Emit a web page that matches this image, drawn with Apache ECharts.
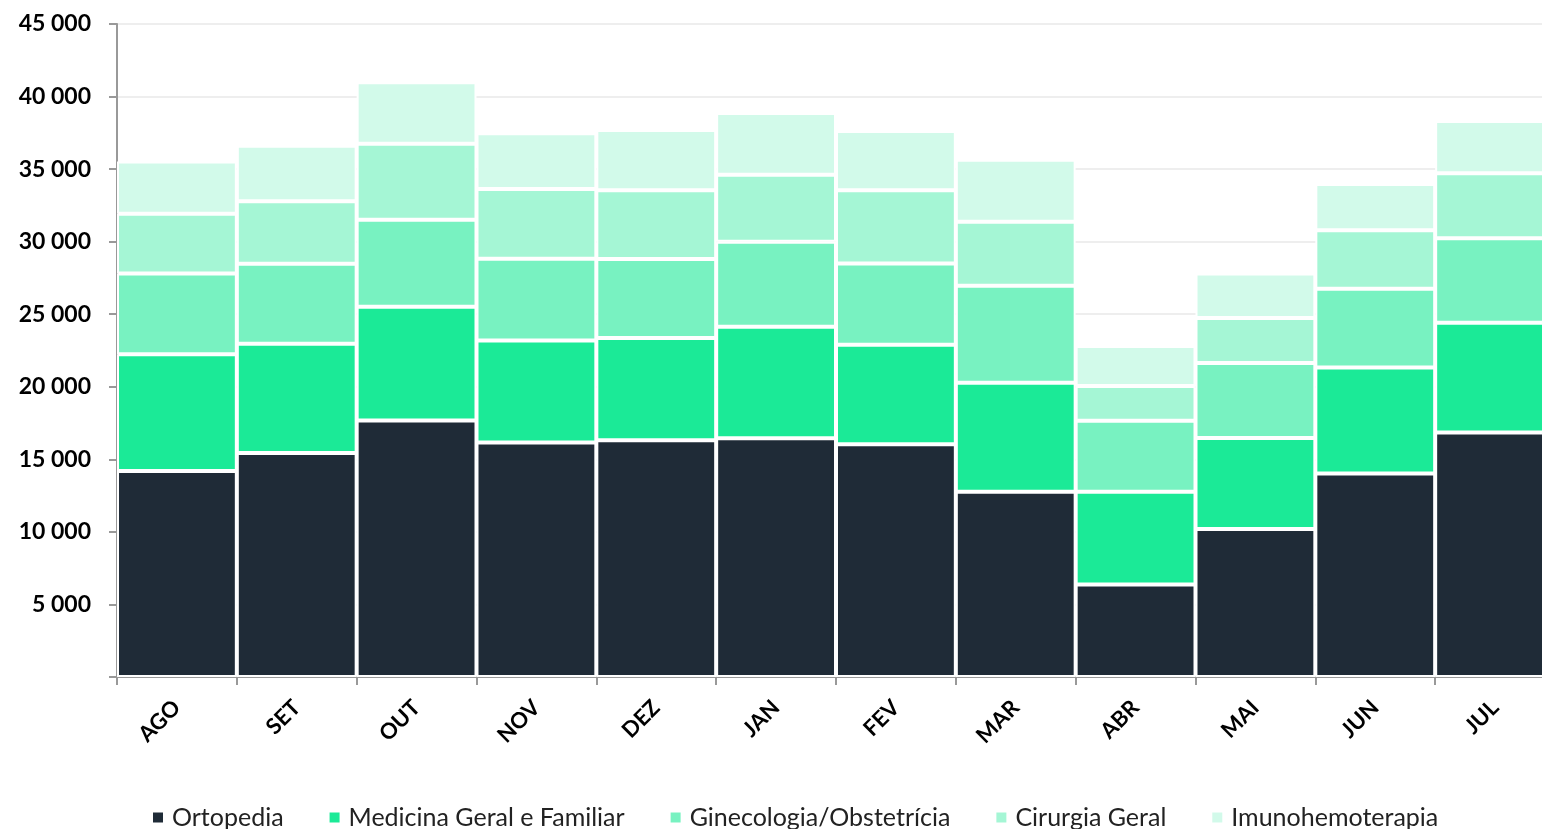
<!DOCTYPE html>
<html>
<head>
<meta charset="utf-8">
<script src="https://cdn.jsdelivr.net/npm/echarts@6/dist/echarts.min.js"></script>
<style>
  html, body { margin: 0; padding: 0; background: #ffffff; overflow: hidden; }
  #chart { width: 1542px; height: 829px; }
</style>
</head>
<body>
<div id="chart"></div>
<script>
// Months (August to July)
const months = ['AGO', 'SET', 'OUT', 'NOV', 'DEZ', 'JAN', 'FEV', 'MAR', 'ABR', 'MAI', 'JUN', 'JUL'];

// Monthly counts per specialty
const ortopedia   = [14200, 15440, 17680, 16160, 16320, 16460, 16040, 12760, 6370, 10200, 14020, 16850];
const medicina    = [8050, 7520, 7830, 7030, 7050, 7670, 6850, 7520, 6390, 6270, 7310, 7560];
const ginecologia = [5560, 5520, 6000, 5630, 5430, 5860, 5610, 6690, 4900, 5170, 5420, 5820];
const cirurgia    = [4120, 4300, 5240, 4810, 4740, 4620, 5050, 4410, 2390, 3100, 4030, 4480];
const imuno       = [3600, 3830, 4230, 3840, 4160, 4250, 4070, 4260, 2760, 3060, 3190, 3610];

const seriesNames = ['Ortopedia', 'Medicina Geral e Familiar', 'Ginecologia/Obstetrícia', 'Cirurgia Geral', 'Imunohemoterapia'];
const seriesData = [ortopedia, medicina, ginecologia, cirurgia, imuno];
const colors = ['#1f2b37', '#1bea97', '#78f2c1', '#a5f6d5', '#d2faea'];

const FONT = 'Lato, "Open Sans", sans-serif';

const chart = echarts.init(document.getElementById('chart'), null, { renderer: 'canvas' });

chart.setOption({
  animation: false,
  color: colors,
  // plot area runs slightly past the right edge of the canvas
  grid: {
    left: 117, width: 1438, top: 24, height: 653,
    containLabel: false,
    outerBoundsMode: 'none'
  },
  legend: {
    left: 146,
    top: 800,
    itemWidth: 12,
    itemHeight: 12,
    itemGap: 44,
    icon: 'rect',
    textStyle: { fontFamily: FONT, fontSize: 25, color: '#222', padding: [0, 0, 0, 3] },
    data: seriesNames
  },
  xAxis: {
    type: 'category',
    data: months,
    axisLine: { lineStyle: { color: '#999', width: 2 } },
    axisTick: { show: true, length: 8, lineStyle: { color: '#999', width: 2 } },
    axisLabel: {
      rotate: 45,
      margin: 27,
      fontFamily: FONT,
      fontWeight: 'bold',
      fontSize: 22,
      color: '#000'
    }
  },
  yAxis: {
    type: 'value',
    min: 0,
    max: 45000,
    interval: 5000,
    axisLine: { show: true, lineStyle: { color: '#999', width: 2 } },
    axisTick: { show: true, length: 8, lineStyle: { color: '#999', width: 2 } },
    splitLine: { lineStyle: { color: '#eeeeee', width: 2 } },
    axisLabel: {
      margin: 26,
      fontFamily: FONT,
      fontWeight: 'bold',
      fontSize: 23,
      color: '#000',
      formatter: v => v === 0 ? '' : String(v).replace(/\B(?=(\d{3})+(?!\d))/g, ' ')
    }
  },
  series: seriesNames.map((name, i) => ({
    name,
    type: 'bar',
    stack: 'total',
    data: seriesData[i],
    barCategoryGap: '0%',
    itemStyle: { borderColor: '#ffffff', borderWidth: 2 }
  }))
});
</script>
</body>
</html>
